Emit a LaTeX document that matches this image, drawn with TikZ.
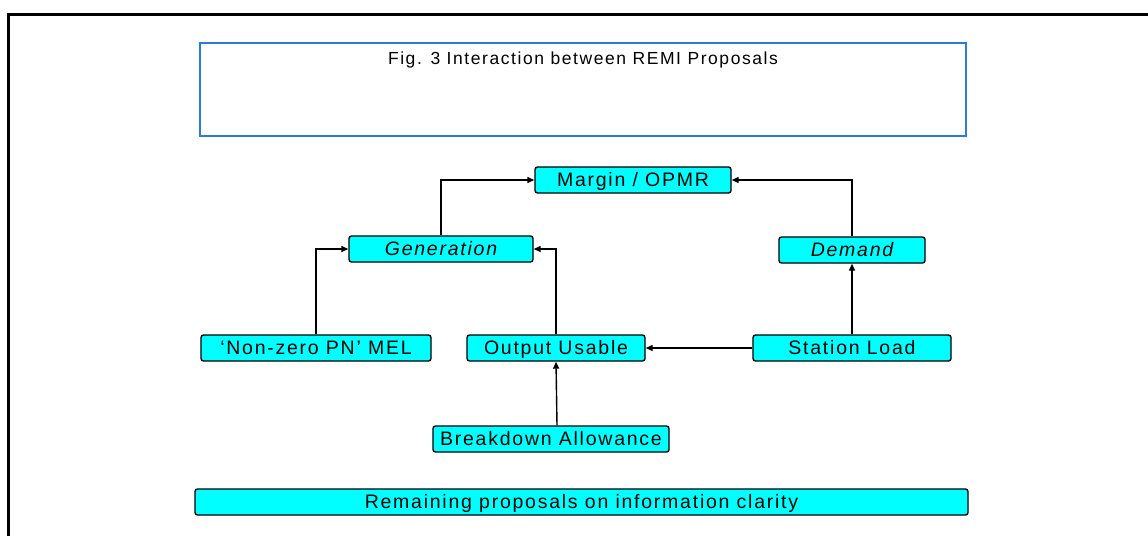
\documentclass[tikz,border=0pt]{standalone}
\usepackage{fontspec}
\setmainfont{Liberation Sans}[LetterSpace=9]
\usetikzlibrary{arrows.meta}
\definecolor{boxcyan}{RGB}{0,255,255}
\definecolor{framblue}{RGB}{40,125,215}
\tikzset{
  pbox/.style={draw=black, fill=boxcyan, line width=1.4pt, rounded corners=2.5pt,
    inner sep=0pt, minimum height=26pt, text height=15pt, text depth=2pt,
    font=\fontsize{19.5}{21}\selectfont},
  link/.style={line width=1.4pt, -{Triangle[length=7pt,width=6pt]}},
}
\begin{document}
\begin{tikzpicture}[x=1pt,y=-1pt]
  \useasboundingbox (0,0) rectangle (1148,536);
  % page frame (top and left edges)
  \draw[line width=3pt] (1148,14) -- (8,14) -- (8,536);
  % title frame
  \draw[draw=framblue, line width=1.6pt] (200,43) rectangle (966,136);
  \node[font=\fontsize{17.5}{19}\selectfont, anchor=center] (title) at (583,60) {Fig. 3 Interaction between REMI Proposals};

  % boxes
  \node[pbox, minimum width=196pt] (margin) at (633,180) {Margin / OPMR};
  \node[pbox, minimum width=184pt] (gen) at (441,249) {\itshape Generation};
  \node[pbox, minimum width=146pt] (demand) at (852,250) {\itshape Demand};
  \node[pbox, minimum width=230pt] (mel) at (316,348) {‘Non-zero PN’ MEL};
  \node[pbox, minimum width=178pt] (output) at (556,348) {Output Usable};
  \node[pbox, minimum width=198pt] (station) at (852,348) {Station Load};
  \node[pbox, minimum width=236pt] (breakdown) at (551,439) {Breakdown Allowance};
  \node[pbox, minimum width=773pt] (remaining) at (581.5,502) {Remaining proposals on information clarity};

  % connectors
  \draw[link] (gen.north) |- (margin.west);
  \draw[link] (demand.north) |- (margin.east);
  \draw[link] (mel.north) |- (gen.west);
  \draw[link] (output.north) |- (gen.east);
  \draw[link] (station.west) -- (output.east);
  \draw[link] (station.north) -- (demand.south);
  \draw[link] ([xshift=6pt]breakdown.north) -- (output.south);
\end{tikzpicture}
\end{document}
